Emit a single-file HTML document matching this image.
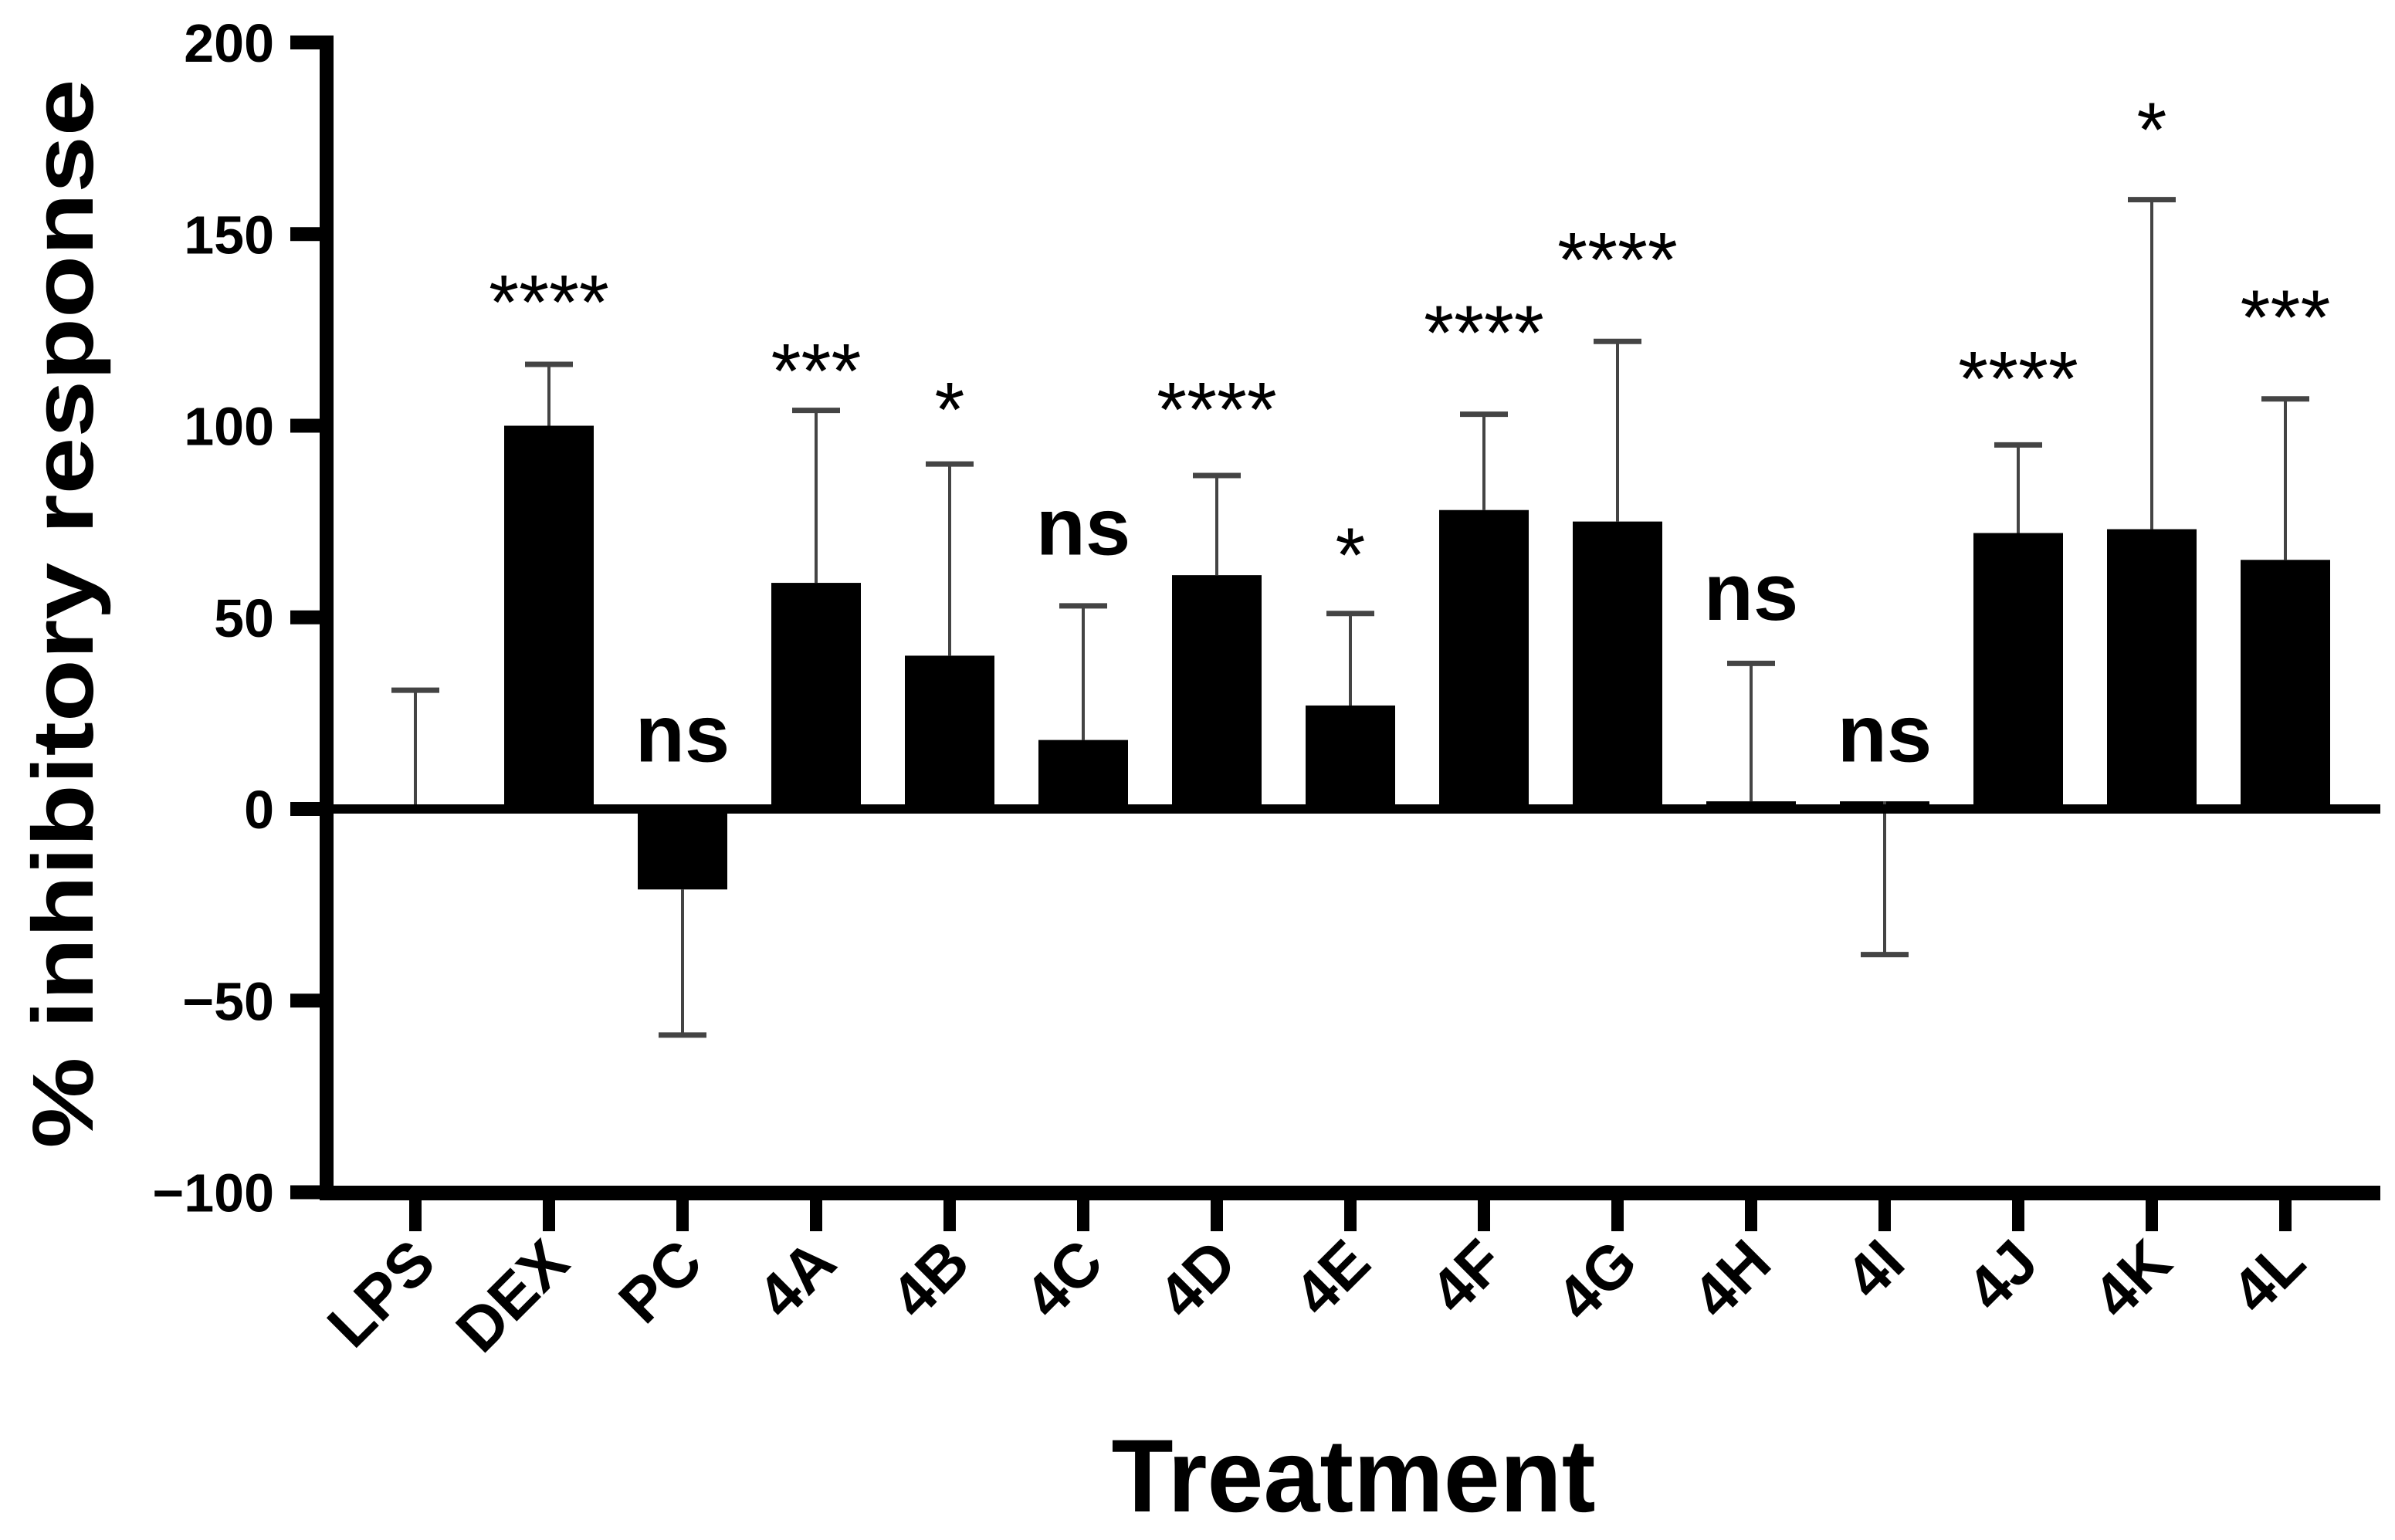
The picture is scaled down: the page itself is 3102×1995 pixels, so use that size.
<!DOCTYPE html>
<html><head><meta charset="utf-8"><style>
html,body{margin:0;padding:0;background:#fff}
svg{display:block}
text{font-family:"Liberation Sans",Arial,sans-serif}
</style></head><body>
<svg id="chart" width="3102" height="1995" viewBox="0 0 3102 1995" xmlns="http://www.w3.org/2000/svg">
</svg>
<script>
const categories = ["LPS","DEX","PC","4A","4B","4C","4D","4E","4F","4G","4H","4I","4J","4K","4L"];
const means = [0,100,-21,59,40,18,61,27,78,75,2,2,72,73,65];
const errEnds = [31,116,-59,104,90,53,87,51,103,122,38,-38,95,159,107];
const sigLabels = ["","****","ns","***","*","ns","****","*","****","****","ns","ns","****","*","***"];
const sigPos = [0,137,18,119,109,72,109,71,129,148,55,18,117,182,133];
const yTicks = [200,150,100,50,0,-50,-100];
const yTickLabels = ["200","150","100","50","0","\u221250","\u2212100"];

const NS="http://www.w3.org/2000/svg";
const svg=document.getElementById('chart');
function yS(v){return 1048 - v*4.965;}
function xS(i){return 538 + i*173.0;}
function mk(tag,attrs,parent){const e=document.createElementNS(NS,tag);for(const k in attrs)e.setAttribute(k,attrs[k]);(parent||svg).appendChild(e);return e;}

categories.forEach((c,i)=>{
  const v=means[i];
  const y1=Math.min(yS(v),yS(0)), h=Math.abs(yS(v)-yS(0));
  const b=mk('rect',{x:xS(i)-58,y:y1,width:116,height:Math.max(h,3),fill:'#000'});
  
  
  const g=mk('g',{stroke:'#444','stroke-width':4});
  
  
  mk('line',{x1:xS(i),x2:xS(i),y1:yS(v),y2:yS(errEnds[i])},g);
  mk('line',{x1:xS(i)-31,x2:xS(i)+31,y1:yS(errEnds[i]),y2:yS(errEnds[i]),'stroke-width':7},g);
  if(sigLabels[i]){
    const isStar=sigLabels[i].indexOf('*')>=0;
    const t=mk('text',{x:xS(i),y:yS(sigPos[i])+(isStar?58:28),'text-anchor':'middle','font-size':isStar?100:105,'font-weight':isStar?'normal':'bold',fill:'#000'});
    t.textContent=sigLabels[i];
    
    
  }
  const tk=mk('rect',{x:xS(i)-8,y:1545,width:16,height:50,fill:'#000'});
  
  
  const lx=xS(i)+30, ly=1640;
  const lt=mk('text',{x:lx,y:ly,'text-anchor':'end','font-size':80,'font-weight':'bold',fill:'#000',transform:`rotate(-45 ${lx} ${ly})`});
  lt.textContent=c;
  
  
});

const zl=mk('rect',{x:423,y:yS(0)-6,width:2660,height:12,fill:'#000'});


const xa=mk('rect',{x:414,y:1536,width:2669,height:19,fill:'#000'});


const ya=mk('rect',{x:414,y:yS(200)-9,width:18,height:1555-(yS(200)-9),fill:'#000'});


yTicks.forEach((v,k)=>{
  const t=mk('rect',{x:376,y:yS(v)-9,width:40,height:18,fill:'#000'});
  
  
  const l=mk('text',{x:355,y:yS(v)+25,'text-anchor':'end','font-size':70,'font-weight':'bold',fill:'#000'});
  l.textContent=yTickLabels[k];
  
  
});
const yt=mk('text',{x:0,y:0,'text-anchor':'middle','font-size':112,'font-weight':'bold',fill:'#000',transform:'translate(120 795) rotate(-90)',textLength:1385,lengthAdjust:'spacingAndGlyphs'});
yt.textContent='% inhibitory response';


const xt=mk('text',{x:1753,y:1958,'text-anchor':'middle','font-size':134,'font-weight':'bold',fill:'#000',textLength:627,lengthAdjust:'spacingAndGlyphs'});
xt.textContent='Treatment';


</script>
</body></html>
